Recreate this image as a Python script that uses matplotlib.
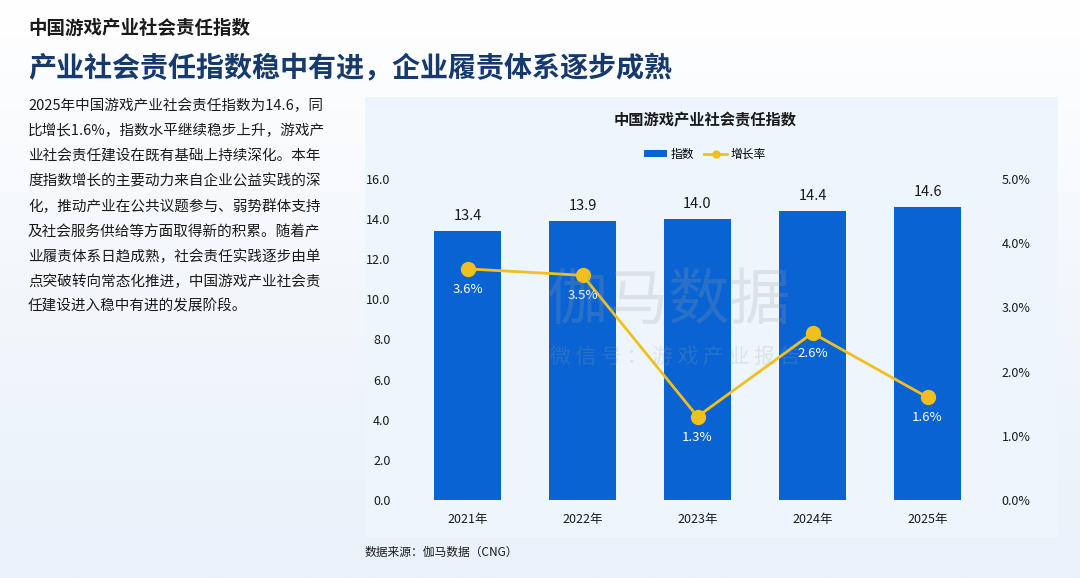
import numpy as np
import matplotlib.pyplot as plt
from matplotlib.patches import Rectangle
from matplotlib.lines import Line2D

plt.rcParams['font.family'] = ['Noto Sans CJK SC', 'DejaVu Sans']

# data
years = ['2021年', '2022年', '2023年', '2024年', '2025年']
index_values = [13.4, 13.9, 14.0, 14.4, 14.6]
growth_rates = [3.6, 3.5, 1.3, 2.6, 1.6]

left_ticks = [0, 2, 4, 6, 8, 10, 12, 14, 16]
right_ticks = [0, 1, 2, 3, 4, 5]

paragraph = [
    '2025年中国游戏产业社会责任指数为14.6，同',
    '比增长1.6%，指数水平继续稳步上升，游戏产',
    '业社会责任建设在既有基础上持续深化。本年',
    '度指数增长的主要动力来自企业公益实践的深',
    '化，推动产业在公共议题参与、弱势群体支持',
    '及社会服务供给等方面取得新的积累。随着产',
    '业履责体系日趋成熟，社会责任实践逐步由单',
    '点突破转向常态化推进，中国游戏产业社会责',
    '任建设进入稳中有进的发展阶段。',
]

W, H = 1080, 578
fig = plt.figure(figsize=(W / 100, H / 100), dpi=100)

# background
bg = fig.add_axes([0, 0, 1, 1], zorder=-10)
bg.set_xlim(0, W)
bg.set_ylim(H, 0)
bg.axis('off')
grad = np.linspace(0, 1, 256).reshape(-1, 1)
bg.imshow(grad, extent=[0, W, H, 0], aspect='auto',
          cmap=plt.matplotlib.colors.LinearSegmentedColormap.from_list(
              'bg', ['#ffffff', '#f3f7fc', '#e9f1fa']))
bg.add_patch(Rectangle((365, 97), 693, 440, facecolor='#eef6fd', edgecolor='none'))

# header texts
fig.text(28 / W, 1 - 28 / H, '中国游戏产业社会责任指数', fontsize=13.3,
         fontweight='bold', color='#1a1a1a', va='center')
fig.text(28 / W, 1 - 68 / H, '产业社会责任指数稳中有进，企业履责体系逐步成熟',
         fontsize=20.2, fontweight='bold', color='#173a6e', va='center')
for i, line in enumerate(paragraph):
    fig.text(28 / W, 1 - (106 + i * 25.1) / H, line, fontsize=10.5,
             color='#1a1a1a', va='center')

fig.text(705 / W, 1 - 120 / H, '中国游戏产业社会责任指数', fontsize=11,
         fontweight='bold', color='#1a1a1a', ha='center', va='center')
fig.text(365 / W, 1 - 552 / H, '数据来源：伽马数据（CNG）', fontsize=8.5,
         color='#1a1a1a', va='center')

# watermark
fig.text(668 / W, 1 - 302 / H, '伽马数据', fontsize=44, color='#9aa0a8',
         alpha=0.22, ha='center', va='center', zorder=20)
fig.text(675 / W, 1 - 357 / H, '微 信 号 ： 游 戏 产 业 报 告', fontsize=15,
         color='#9aa0a8', alpha=0.22, ha='center', va='center', zorder=20)

# chart
ax = fig.add_axes([410 / W, 78 / H, 575 / W, 321 / H])
ax.patch.set_alpha(0)
x = np.arange(len(years))
bar_color = '#0a63d2'
bars = ax.bar(x, index_values, width=0.59, color=bar_color, zorder=2)
for xi, v in zip(x, index_values):
    ax.text(xi, v + 0.4, f'{v:.1f}', ha='center', va='bottom', fontsize=10.5,
            color='#1a1a1a')
ax.set_xlim(-0.5, len(years) - 0.5)
ax.set_ylim(0, 16)
ax.set_yticks(left_ticks)
ax.set_yticklabels([f'{t:.1f}' for t in left_ticks])
ax.set_xticks(x)
ax.set_xticklabels(years)
for s in ax.spines.values():
    s.set_visible(False)
ax.tick_params(length=0, labelsize=9, colors='#1a1a1a')
ax.tick_params(axis='y', pad=14)
ax.tick_params(axis='x', pad=9)

ax2 = ax.twinx()
line_color = '#f2c01e'
ax2.plot(x, growth_rates, color=line_color, linewidth=2, marker='o',
         markersize=10, zorder=3)
for xi, g in zip(x, growth_rates):
    ax2.text(xi, g - 0.22, f'{g:.1f}%', ha='center', va='top', fontsize=9.5,
             color='white')
ax2.set_ylim(0, 5)
ax2.set_yticks(right_ticks)
ax2.set_yticklabels([f'{t:.1f}%' for t in right_ticks])
for s in ax2.spines.values():
    s.set_visible(False)
ax2.tick_params(length=0, labelsize=9, colors='#1a1a1a', pad=12)

# legend
handles = [Rectangle((0, 0), 1, 1, facecolor=bar_color),
           Line2D([0], [0], color=line_color, linewidth=2, marker='o', markersize=5)]
fig.legend(handles, ['指数', '增长率'], loc='center', ncol=2,
           bbox_to_anchor=(705 / W, 1 - 154 / H), frameon=False, fontsize=8.5,
           handlelength=2.0, handleheight=0.6, columnspacing=0.8, handletextpad=0.3)

fig.savefig('out.png', dpi=100)
